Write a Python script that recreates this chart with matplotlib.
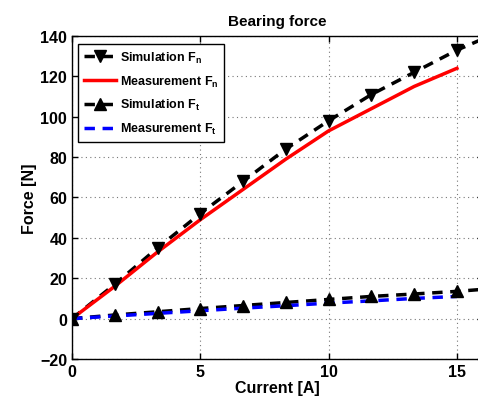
import matplotlib
matplotlib.use("Agg")
import matplotlib.pyplot as plt
import numpy as np
from matplotlib.lines import Line2D

plt.rcParams["font.family"] = "Liberation Sans"
plt.rcParams["font.weight"] = "bold"
plt.rcParams["mathtext.fontset"] = "custom"
plt.rcParams["mathtext.rm"] = "Liberation Sans:bold"
plt.rcParams["mathtext.default"] = "rm"

current = [0, 1.667, 3.333, 5, 6.667, 8.333, 10, 11.667, 13.333, 15]
current_sim = current + [16]
sim_fn = [0, 17, 35, 52, 68, 84, 98, 111, 122, 133, 138.5]
meas_fn = [0, 16, 33, 49, 64, 79, 93, 104, 115, 124]
sim_ft = [0, 1.8, 3.4, 5, 6.5, 8, 9.5, 11, 12.2, 13.5, 14.5]
meas_ft = [0, 1.3, 2.6, 3.9, 5.2, 6.4, 7.7, 8.8, 10, 11]

fig = plt.figure(figsize=(4.78, 4.06), dpi=100)
ax = fig.add_axes([0.1506, 0.1133, 0.859, 0.7956])

ax.plot(current_sim, sim_fn, "k--", lw=2.5, dashes=(3, 2.2))
ax.plot(current, meas_fn, color="red", lw=2.5)
ax.plot(current_sim, sim_ft, "k--", lw=2.5, dashes=(3, 2.2))
ax.plot(current, meas_ft, "--", color="blue", lw=2.5, dashes=(3, 2.2))
ax.plot(current, sim_fn[:10], "kv", ms=8.5, ls="none")
ax.plot(current, sim_ft[:10], "k^", ms=8.5, ls="none")

# legend proxies
handles = [
    Line2D([], [], color="k", ls="--", lw=2.5, marker="v", ms=8.5, dashes=(3, 2.2)),
    Line2D([], [], color="red", lw=2.5),
    Line2D([], [], color="k", ls="--", lw=2.5, marker="^", ms=8.5, dashes=(3, 2.2)),
    Line2D([], [], color="blue", ls="--", lw=2.5, dashes=(3, 2.2)),
]
labels = ["Simulation F$_n$", "Measurement F$_n$", "Simulation F$_t$", "Measurement F$_t$"]
leg = ax.legend(handles, labels, loc="upper left", bbox_to_anchor=(0.006, 0.987),
                fancybox=False, edgecolor="k", framealpha=1, fontsize=9,
                handlelength=2.6, borderpad=0.45, labelspacing=0.7, handletextpad=0.3,
                borderaxespad=0.3)
leg.get_frame().set_linewidth(1.0)

ax.set_xlim(0, 16)
ax.set_ylim(-20, 140)
ax.set_xticks([0, 5, 10, 15])
ax.set_yticks(np.arange(-20, 141, 20))
ax.tick_params(direction="in", labelsize=11.5, width=1, length=4, top=True, right=True)
ax.grid(True, ls=(0, (1, 3)), color="#777777", lw=0.8)
for s in ax.spines.values():
    s.set_linewidth(1.0)
ax.set_xlabel("Current [A]", fontsize=11.5, fontweight="bold", labelpad=1)
ax.set_ylabel("Force [N]", fontsize=11.5, fontweight="bold", labelpad=2)
ax.set_title("Bearing force", fontsize=11, fontweight="bold", pad=8)

fig.savefig("out.png", dpi=100)
